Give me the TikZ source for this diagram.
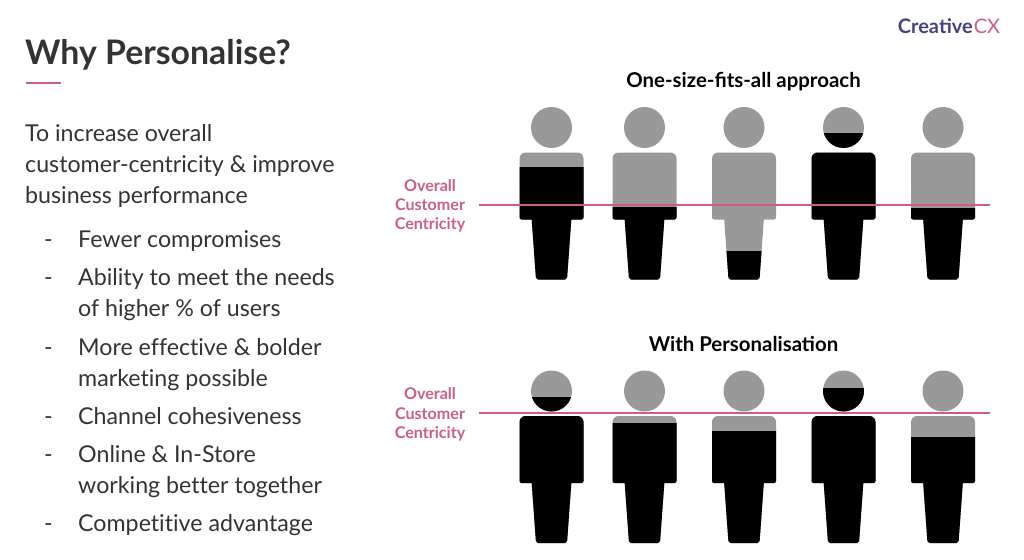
\documentclass[tikz,border=0pt]{standalone}
\usepackage{fontspec}
\setmainfont{Lato}
\definecolor{cxpink}{HTML}{C9607F}
\definecolor{cxgrey}{HTML}{999999}
\definecolor{cxtext}{HTML}{333333}
\definecolor{cxindigo}{HTML}{46437A}
\newcommand{\personpath}[1]{
  (#1,127.5) circle(20.5)
  [rounded corners=6pt] (#1-32,190) -- (#1-32,152.5) -- (#1+32,152.5) -- (#1+32,190)
  [rounded corners=2pt] -- (#1+32,219.5) -- (#1-32,219.5) -- cycle
  (#1-20,217) -- (#1+20,217) -- (#1+15.5,279.5) -- (#1-15.5,279.5) -- cycle [sharp corners]}
\tikzset{
  bodytext/.style={anchor=base west,font=\fontsize{23.2}{27}\selectfont\addfontfeature{RawFeature={-liga;-clig;-dlig;-calt}},text=cxtext,inner sep=0pt},
  headtext/.style={anchor=base,font=\fontsize{20.4}{24}\selectfont\bfseries,text=black,inner sep=0pt},
  sidetext/.style={align=center,font=\fontsize{16.1}{19.2}\selectfont\bfseries,text=cxpink,inner sep=0pt},
  level/.style={draw=cxpink,line width=2pt}
}
\begin{document}
\begin{tikzpicture}[x=1pt,y=-1pt]
  \useasboundingbox (0,0) rectangle (1024,559);
  % title
  \node[anchor=base west,inner sep=0pt,font=\fontsize{33.8}{38}\selectfont\bfseries,text=cxtext] (title) at (25,65) {Why Personalise?};
  \coordinate (ruleA) at (26,83);
  \coordinate (ruleB) at (61,83);
  \draw[level,line width=2.5pt] (ruleA) -- (ruleB);
  \node[anchor=base,inner sep=0pt,font=\fontsize{20}{25}\selectfont] (logo) at (949,34) {\textcolor{cxindigo}{\bfseries Creative}\kern1pt\textcolor{cxpink}{CX}};
  % left column
  \node[bodytext] (introA) at (25,141) {To increase overall};
  \node[bodytext] (introB) at (25,172) {customer-centricity \& improve};
  \node[bodytext] (introC) at (25,203) {business performance};
  \foreach \dy/\name/\txt in {247/a/Fewer compromises,
      285/b/Ability to meet the needs,316/c/of higher \% of users,
      355/d/More effective \& bolder,386/e/marketing possible,
      424/f/Channel cohesiveness,
      462/g/Online \& In-Store,493/h/working better together,
      531/i/Competitive advantage}
    \node[bodytext] (item\name) at (78,\dy) {\txt};
  \foreach \dy/\name in {247/a,285/b,355/d,424/f,462/g,531/i}
    \node[bodytext] (dash\name) at (44,\dy) {-};
  % one size fits all
  \node[headtext] (headA) at (743.5,88) {One-size-fits-all approach};
  \foreach \px/\lev in {551.5/167,644.5/207,744/251,843.5/133,943/208} {
    \fill[cxgrey] \personpath{\px};
    \begin{scope}
      \clip (\px-40,\lev) rectangle (\px+40,290);
      \fill[black] \personpath{\px};
    \end{scope}
  }
  \coordinate (lineA) at (479,205);
  \coordinate (lineB) at (990,205);
  \draw[level] (lineA) -- (lineB);
  \node[sidetext] (sideA) at (430,206) {Overall\\Customer\\Centricity};
  % with personalisation
  \node[headtext] (headB) at (743.5,351) {With Personalisation};
  \begin{scope}[yshift=-263.5pt]
  \foreach \px/\lev in {551.5/133.5,644.5/159.5,744/167.5,843.5/125,943/173.5} {
    \fill[cxgrey] \personpath{\px};
    \begin{scope}
      \clip (\px-40,\lev) rectangle (\px+40,290);
      \fill[black] \personpath{\px};
    \end{scope}
  }
  \end{scope}
  \coordinate (lineC) at (479,413);
  \coordinate (lineD) at (990,413);
  \draw[level] (lineC) -- (lineD);
  \node[sidetext] (sideB) at (430,414.5) {Overall\\Customer\\Centricity};
\end{tikzpicture}
\end{document}
